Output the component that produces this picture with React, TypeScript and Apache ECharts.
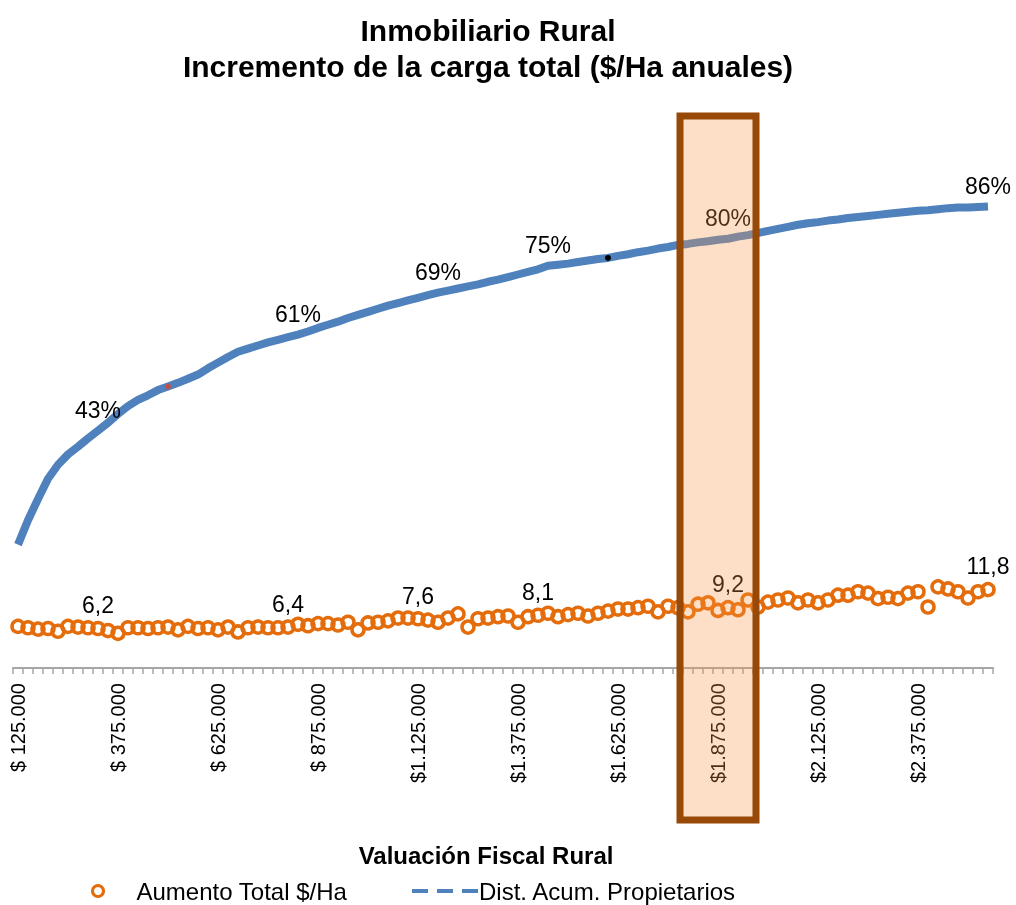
import React, { useEffect, useRef } from 'react';
import * as echarts from 'echarts';

// Valuación fiscal rural (miles de $), one category per point
const valuations = [
  125, 150, 175, 200, 225, 250, 275, 300, 325, 350,
  375, 400, 425, 450, 475, 500, 525, 550, 575, 600,
  625, 650, 675, 700, 725, 750, 775, 800, 825, 850,
  875, 900, 925, 950, 975, 1000, 1025, 1050, 1075, 1100,
  1125, 1150, 1175, 1200, 1225, 1250, 1275, 1300, 1325, 1350,
  1375, 1400, 1425, 1450, 1475, 1500, 1525, 1550, 1575, 1600,
  1625, 1650, 1675, 1700, 1725, 1750, 1775, 1800, 1825, 1850,
  1875, 1900, 1925, 1950, 1975, 2000, 2025, 2050, 2075, 2100,
  2125, 2150, 2175, 2200, 2225, 2250, 2275, 2300, 2325, 2350,
  2375, 2400, 2425, 2450, 2475, 2500, 2525, 2550,
];

// Dist. Acum. Propietarios (%)
const distAcum = [
  20.8, 25.5, 29.6, 33.5, 36.2, 38.2, 39.7, 41.3, 42.8, 44.3,
  46.0, 47.5, 48.7, 49.6, 50.6, 51.3, 52.0, 52.8, 53.6, 54.8,
  55.9, 57.0, 58.0, 58.6, 59.2, 59.8, 60.3, 60.8, 61.3, 61.9,
  62.6, 63.2, 63.8, 64.5, 65.1, 65.7, 66.3, 66.9, 67.4, 67.9,
  68.4, 68.9, 69.4, 69.8, 70.2, 70.6, 71.0, 71.5, 71.9, 72.4,
  72.9, 73.4, 73.9, 74.6, 74.8, 75.0, 75.3, 75.6, 75.9, 76.1,
  76.5, 76.8, 77.2, 77.5, 77.9, 78.2, 78.6, 78.8, 79.1, 79.3,
  79.6, 79.8, 80.2, 80.5, 80.9, 81.3, 81.7, 82.1, 82.5, 82.8,
  83.0, 83.3, 83.5, 83.8, 84.0, 84.2, 84.4, 84.6, 84.8, 85.0,
  85.2, 85.3, 85.5, 85.7, 85.8, 85.8, 85.9, 86.0,
];

// Aumento Total $/Ha
const aumento = [
  6.5, 6.3, 6.1, 6.2, 5.8, 6.5, 6.4, 6.3, 6.2, 5.9,
  5.5, 6.3, 6.3, 6.2, 6.3, 6.4, 6.0, 6.5, 6.2, 6.3,
  6.0, 6.4, 5.7, 6.3, 6.4, 6.3, 6.3, 6.4, 6.8, 6.6,
  6.9, 6.9, 6.7, 7.1, 6.0, 7.0, 7.1, 7.3, 7.7, 7.7,
  7.6, 7.4, 7.1, 7.7, 8.3, 6.4, 7.6, 7.7, 7.9, 8.0,
  7.1, 7.9, 8.1, 8.4, 7.9, 8.2, 8.4, 8.0, 8.4, 8.7,
  9.0, 9.0, 9.2, 9.4, 8.6, 9.4, 9.2, 8.6, 9.7, 9.9,
  8.8, 9.2, 8.9, 10.3, 9.3, 10.0, 10.3, 10.6, 9.9, 10.3,
  9.9, 10.3, 11.0, 11.0, 11.5, 11.3, 10.5, 10.7, 10.5, 11.3,
  11.5, 9.3, 12.2, 11.9, 11.5, 10.6, 11.5, 11.8,
];

const distLabelIdx = [8, 28, 42, 53, 71, 97];
const aumentoLabelIdx = [8, 27, 40, 52, 71, 97];
const strayMarks = [
  { idx: 15, color: '#C0504D' },
  { idx: 59, color: '#000000' },
];
// highlighted valuation range (miles de $)
const highlightFrom = 1780;
const highlightTo = 1970;

const FONT = 'Liberation Sans, Arial, sans-serif';

function fmtValuation(v: number) {
  const s = String(v * 1000).replace(/\B(?=(\d{3})+(?!\d))/g, '.');
  return v < 1000 ? '$ ' + s : '$' + s;
}

export default function App() {
  const ref = useRef<HTMLDivElement>(null);
  useEffect(() => {
    const chart = echarts.init(ref.current!, null, { renderer: 'svg' });

    const lineData = distAcum.map((v, i) => {
      const item: any = { value: v };
      if (distLabelIdx.includes(i)) item.label = { show: true };
      const m = strayMarks.find((s) => s.idx === i);
      if (m) {
        item.symbolSize = 6;
        item.itemStyle = { color: m.color, opacity: 1 };
      }
      return item;
    });
    const scatterData = aumento.map((v, i) => {
      const item: any = { value: v };
      if (aumentoLabelIdx.includes(i)) item.label = { show: true };
      return item;
    });

    chart.setOption({
      animation: false,
      textStyle: { fontFamily: FONT },
      title: {
        text: 'Inmobiliario Rural\nIncremento de la carga total ($/Ha anuales)',
        left: 483,
        top: 7,
        textAlign: 'center',
        textStyle: { fontSize: 30, fontWeight: 'bold', color: '#000', lineHeight: 36, fontFamily: FONT },
      },
      legend: [
        {
          data: [
            {
              name: 'Aumento Total $/Ha',
              icon: 'circle',
              itemStyle: { color: 'rgba(0,0,0,0)', borderColor: '#E46C0A', borderWidth: 3 },
            },
          ],
          left: 86,
          top: 874,
          itemWidth: 11,
          itemHeight: 11,
          textStyle: { fontSize: 24, color: '#000', fontFamily: FONT, padding: [0, 0, 0, 28] },
        },
        {
          data: [
            {
              name: 'Dist. Acum. Propietarios',
              icon: 'path://M0,0H16V4H0Z M25,0H41V4H25Z M50,0H66V4H50Z',
              itemStyle: { color: '#4F81BD' },
            },
          ],
          left: 407,
          top: 874,
          itemWidth: 66,
          itemHeight: 4,
          itemGap: 2,
          textStyle: { fontSize: 24, color: '#000', fontFamily: FONT, padding: [0, 0, 0, -4] },
        },
      ],
      grid: { left: 13, right: 23, top: 134, bottom: 237, outerBoundsMode: 'none', containLabel: false },
      xAxis: {
        type: 'category',
        data: valuations.map((v) => String(v)),
        boundaryGap: true,
        name: 'Valuación Fiscal Rural',
        nameLocation: 'middle',
        nameGap: 175,
        nameMoveOverlap: false,
        nameTextStyle: { fontSize: 24, fontWeight: 'bold', color: '#000', fontFamily: FONT, padding: [0, 34, 0, 0] },
        axisLine: { onZero: false, lineStyle: { color: '#A6A6A6', width: 2 } },
        axisTick: { show: true, interval: 0, length: 6, lineStyle: { color: '#A6A6A6', width: 1.5 } },
        axisLabel: {
          interval: 9,
          rotate: 90,
          fontSize: 20,
          color: '#000',
          margin: 15,
          fontFamily: FONT,
          formatter: (v: string) => fmtValuation(Number(v)),
        },
        splitLine: { show: false },
      },
      yAxis: [
        { type: 'value', min: -3, max: 100, show: false },
        { type: 'value', min: 0.5, max: 77.5, show: false },
      ],
      series: [
        {
          name: 'Dist. Acum. Propietarios',
          type: 'line',
          yAxisIndex: 0,
          data: lineData,
          symbol: 'circle',
          symbolSize: 0,
          showSymbol: true,
          showAllSymbol: true,
          itemStyle: { color: '#4F81BD' },
          lineStyle: { color: '#4F81BD', width: 8 },
          label: {
            show: false,
            position: 'top',
            distance: 9,
            fontSize: 23,
            color: '#000',
            fontFamily: FONT,
            formatter: (p: any) => Math.round(p.value) + '%',
          },
          z: 3,
        },
        {
          name: 'Aumento Total $/Ha',
          type: 'scatter',
          yAxisIndex: 1,
          data: scatterData,
          symbol: 'circle',
          symbolSize: 12,
          itemStyle: { color: 'rgba(0,0,0,0)', borderColor: '#E46C0A', borderWidth: 3.5, opacity: 1 },
          label: {
            show: false,
            position: 'top',
            distance: 4,
            fontSize: 23,
            color: '#000',
            fontFamily: FONT,
            formatter: (p: any) => Number(p.value).toFixed(1).replace('.', ','),
          },
          z: 2,
        },
      ],
    });

    const toPx = (catPos: number) => {
      const lo = Math.floor(catPos);
      const p0 = chart.convertToPixel({ xAxisIndex: 0 }, lo) as number;
      const p1 = chart.convertToPixel({ xAxisIndex: 0 }, lo + 1) as number;
      return p0 + (catPos - lo) * (p1 - p0);
    };
    const step = valuations[1] - valuations[0];
    const x0 = toPx((highlightFrom - valuations[0]) / step);
    const x1 = toPx((highlightTo - valuations[0]) / step);

    chart.setOption({
      graphic: [
        {
          type: 'rect',
          z: 100,
          shape: { x: x0, y: 116, width: x1 - x0, height: 704 },
          style: { fill: 'rgba(247,150,70,0.3)', stroke: '#984807', lineWidth: 7 },
        },
      ],
    });

    return () => chart.dispose();
  }, []);
  return <div ref={ref} style={{ position: 'fixed', left: 0, top: 0, width: 1016, height: 905 }} />;
}
